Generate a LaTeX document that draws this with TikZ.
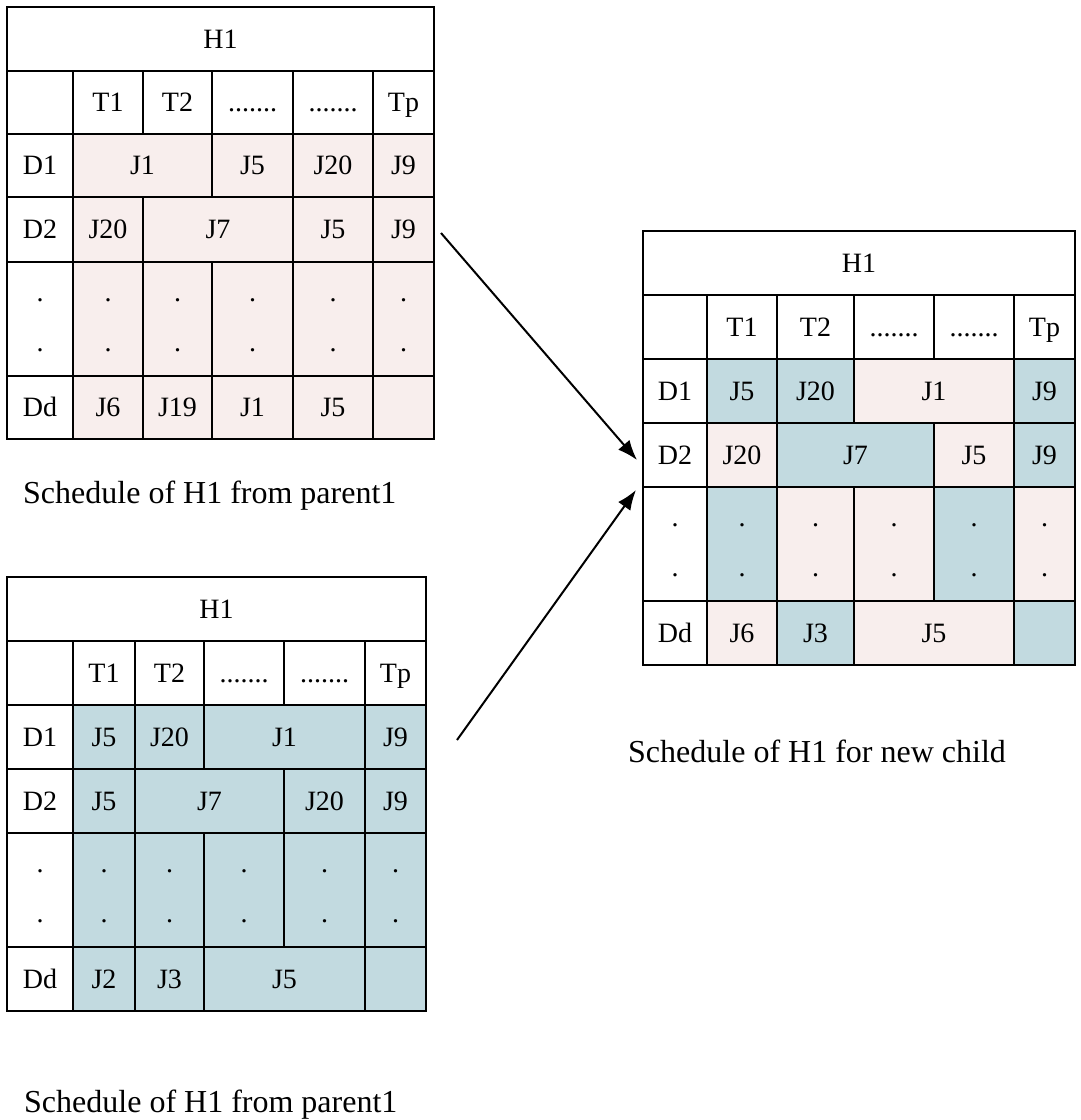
\documentclass[tikz,border=0pt]{standalone}
\usepackage{fontspec}
\setmainfont{Liberation Serif}
\usepackage{xcolor}
\usepackage{tikz}
\usetikzlibrary{calc, arrows.meta, positioning, shapes}

\definecolor{parentA}{RGB}{248,238,237}
\definecolor{parentB}{RGB}{194,218,224}

% cell from corner (x1,y1) to corner (x2,y2)
\newcommand{\schedcell}[7][white]{%
\node[cell, fill=#1, minimum width={#5-#3}, minimum height={#6-#4}] at ({(#3+#5)/2}, {(#4+#6)/2}) (#2) {#7};}
\newcommand{\dotpair}{\rlap{\raisebox{27pt}{.}}\raisebox{-23pt}{.}}

\begin{document}
\begin{tikzpicture}[x=1pt, y=-1pt, >={Latex[length=20pt, width=15pt]}, font=\fontsize{28}{33}\selectfont]
\tikzstyle{cell} = [draw=black, line width=2pt, rectangle, inner sep=0pt, text height=18.5pt, text depth=0pt]
\tikzstyle{caption} = [anchor=base west, inner sep=0pt, font=\fontsize{32}{38}\selectfont]

\useasboundingbox (0, 0) rectangle (1080, 1120);

% schedule from parent1 (top)
\schedcell{t1h}{7}{7}{434}{71}{H1}
\schedcell{t1c0}{7}{71}{73}{134}{}
\schedcell{t1t1}{73}{71}{143}{134}{T1}
\schedcell{t1t2}{143}{71}{212}{134}{T2}
\schedcell{t1t3}{212}{71}{293}{134}{.......}
\schedcell{t1t4}{293}{71}{373}{134}{.......}
\schedcell{t1tp}{373}{71}{434}{134}{Tp}
\schedcell{t1d1}{7}{134}{73}{197}{D1}
\schedcell[parentA]{t1a1}{73}{134}{212}{197}{J1}
\schedcell[parentA]{t1a2}{212}{134}{293}{197}{J5}
\schedcell[parentA]{t1a3}{293}{134}{373}{197}{J20}
\schedcell[parentA]{t1a4}{373}{134}{434}{197}{J9}
\schedcell{t1d2}{7}{197}{73}{262}{D2}
\schedcell[parentA]{t1b1}{73}{197}{143}{262}{J20}
\schedcell[parentA]{t1b2}{143}{197}{293}{262}{J7}
\schedcell[parentA]{t1b3}{293}{197}{373}{262}{J5}
\schedcell[parentA]{t1b4}{373}{197}{434}{262}{J9}
\schedcell{t1dx}{7}{262}{73}{376}{\dotpair}
\schedcell[parentA]{t1c1}{73}{262}{143}{376}{\dotpair}
\schedcell[parentA]{t1c2}{143}{262}{212}{376}{\dotpair}
\schedcell[parentA]{t1c3}{212}{262}{293}{376}{\dotpair}
\schedcell[parentA]{t1c4}{293}{262}{373}{376}{\dotpair}
\schedcell[parentA]{t1c5}{373}{262}{434}{376}{\dotpair}
\schedcell{t1dd}{7}{376}{73}{439}{Dd}
\schedcell[parentA]{t1e1}{73}{376}{143}{439}{J6}
\schedcell[parentA]{t1e2}{143}{376}{212}{439}{J19}
\schedcell[parentA]{t1e3}{212}{376}{293}{439}{J1}
\schedcell[parentA]{t1e4}{293}{376}{373}{439}{J5}
\schedcell[parentA]{t1e5}{373}{376}{434}{439}{}
\node[caption]		at (23, 503)	(cap1)	{Schedule of H1 from parent1};

% schedule from parent1 (bottom)
\schedcell{t2h}{7}{577}{426}{641}{H1}
\schedcell{t2c0}{7}{641}{73}{705}{}
\schedcell{t2t1}{73}{641}{135}{705}{T1}
\schedcell{t2t2}{135}{641}{204}{705}{T2}
\schedcell{t2t3}{204}{641}{284}{705}{.......}
\schedcell{t2t4}{284}{641}{365}{705}{.......}
\schedcell{t2tp}{365}{641}{426}{705}{Tp}
\schedcell{t2d1}{7}{705}{73}{769}{D1}
\schedcell[parentB]{t2a1}{73}{705}{135}{769}{J5}
\schedcell[parentB]{t2a2}{135}{705}{204}{769}{J20}
\schedcell[parentB]{t2a3}{204}{705}{365}{769}{J1}
\schedcell[parentB]{t2a4}{365}{705}{426}{769}{J9}
\schedcell{t2d2}{7}{769}{73}{833}{D2}
\schedcell[parentB]{t2b1}{73}{769}{135}{833}{J5}
\schedcell[parentB]{t2b2}{135}{769}{284}{833}{J7}
\schedcell[parentB]{t2b3}{284}{769}{365}{833}{J20}
\schedcell[parentB]{t2b4}{365}{769}{426}{833}{J9}
\schedcell{t2dx}{7}{833}{73}{947}{\dotpair}
\schedcell[parentB]{t2c1}{73}{833}{135}{947}{\dotpair}
\schedcell[parentB]{t2c2}{135}{833}{204}{947}{\dotpair}
\schedcell[parentB]{t2c3}{204}{833}{284}{947}{\dotpair}
\schedcell[parentB]{t2c4}{284}{833}{365}{947}{\dotpair}
\schedcell[parentB]{t2c5}{365}{833}{426}{947}{\dotpair}
\schedcell{t2dd}{7}{947}{73}{1011}{Dd}
\schedcell[parentB]{t2e1}{73}{947}{135}{1011}{J2}
\schedcell[parentB]{t2e2}{135}{947}{204}{1011}{J3}
\schedcell[parentB]{t2e3}{204}{947}{365}{1011}{J5}
\schedcell[parentB]{t2e4}{365}{947}{426}{1011}{}
\node[caption]		at (24, 1112)	(cap2)	{Schedule of H1 from parent1};

% schedule for new child
\schedcell{t3h}{643}{231}{1075}{295}{H1}
\schedcell{t3c0}{643}{295}{707}{359}{}
\schedcell{t3t1}{707}{295}{777}{359}{T1}
\schedcell{t3t2}{777}{295}{854}{359}{T2}
\schedcell{t3t3}{854}{295}{934}{359}{.......}
\schedcell{t3t4}{934}{295}{1014}{359}{.......}
\schedcell{t3tp}{1014}{295}{1075}{359}{Tp}
\schedcell{t3d1}{643}{359}{707}{423}{D1}
\schedcell[parentB]{t3a1}{707}{359}{777}{423}{J5}
\schedcell[parentB]{t3a2}{777}{359}{854}{423}{J20}
\schedcell[parentA]{t3a3}{854}{359}{1014}{423}{J1}
\schedcell[parentB]{t3a4}{1014}{359}{1075}{423}{J9}
\schedcell{t3d2}{643}{423}{707}{487}{D2}
\schedcell[parentA]{t3b1}{707}{423}{777}{487}{J20}
\schedcell[parentB]{t3b2}{777}{423}{934}{487}{J7}
\schedcell[parentA]{t3b3}{934}{423}{1014}{487}{J5}
\schedcell[parentB]{t3b4}{1014}{423}{1075}{487}{J9}
\schedcell{t3dx}{643}{487}{707}{601}{\dotpair}
\schedcell[parentB]{t3c1}{707}{487}{777}{601}{\dotpair}
\schedcell[parentA]{t3c2}{777}{487}{854}{601}{\dotpair}
\schedcell[parentA]{t3c3}{854}{487}{934}{601}{\dotpair}
\schedcell[parentB]{t3c4}{934}{487}{1014}{601}{\dotpair}
\schedcell[parentA]{t3c5}{1014}{487}{1075}{601}{\dotpair}
\schedcell{t3dd}{643}{601}{707}{665}{Dd}
\schedcell[parentA]{t3e1}{707}{601}{777}{665}{J6}
\schedcell[parentB]{t3e2}{777}{601}{854}{665}{J3}
\schedcell[parentA]{t3e3}{854}{601}{1014}{665}{J5}
\schedcell[parentB]{t3e4}{1014}{601}{1075}{665}{}
\node[caption]		at (628, 762)	(cap3)	{Schedule of H1 for new child};

\coordinate (from1)	at (441, 233);
\coordinate (into1)	at (637, 460);
\coordinate (from2)	at (457, 740);
\coordinate (into2)	at (636, 490);

\draw[->, line width=2pt] (from1) -- (into1);
\draw[->, line width=2pt] (from2) -- (into2);
\end{tikzpicture}
\end{document}
